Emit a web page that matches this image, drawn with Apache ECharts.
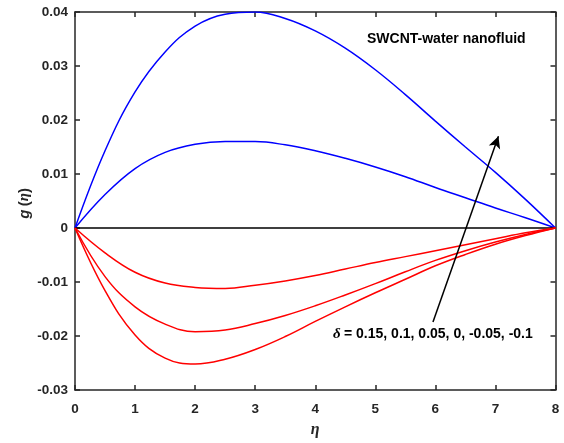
<!DOCTYPE html>
<html>
<head>
<meta charset="utf-8">
<script src="https://cdn.jsdelivr.net/npm/echarts@6/dist/echarts.min.js"></script>
<style>
  html, body { margin: 0; padding: 0; background: #fff; }
  #chart { width: 564px; height: 443px; }
</style>
</head>
<body>
<div id="chart"></div>
<script>
const eta = [0, 0.5, 1, 1.5, 2, 2.5, 3, 3.5, 4, 4.5, 5, 5.5, 6, 6.5, 7, 7.5, 8];

// g(eta) for each delta
const gBlue1 = [0, 0.0143, 0.0252, 0.0326, 0.0374, 0.0396, 0.0400, 0.0388, 0.0365, 0.0333, 0.0293, 0.0247, 0.0198, 0.0150, 0.0103, 0.0053, 0];
const gBlue2 = [0, 0.0062, 0.0110, 0.0140, 0.0155, 0.0160, 0.0160, 0.0154, 0.0143, 0.0129, 0.0113, 0.0095, 0.0075, 0.0056, 0.0037, 0.0019, 0];
const gBlack = [0, 0, 0, 0, 0, 0, 0, 0, 0, 0, 0, 0, 0, 0, 0, 0, 0];
const gRed1 = [0, -0.0046, -0.0082, -0.0102, -0.0110, -0.0112, -0.0106, -0.0098, -0.0088, -0.0076, -0.0064, -0.0053, -0.0042, -0.0031, -0.0020, -0.0009, 0];
const gRed2 = [0, -0.0090, -0.0146, -0.0178, -0.0192, -0.0189, -0.0177, -0.0162, -0.0144, -0.0124, -0.0103, -0.0081, -0.0060, -0.0042, -0.0026, -0.0012, 0];
const gRed3 = [0, -0.0116, -0.0198, -0.0241, -0.0252, -0.0243, -0.0225, -0.0201, -0.0173, -0.0146, -0.0120, -0.0095, -0.0070, -0.0049, -0.0030, -0.0014, 0];

// arrow annotation, data coords (tail -> head)
const arrowFrom = [5.96, -0.0174];
const arrowTo = [7.05, 0.0170];

const axisColor = '#262626';
const tickFont = { color: axisColor, fontSize: 13.5, fontWeight: 'bold', fontFamily: 'Liberation Sans, Arial' };

function pairs(ys) {
  return eta.map((x, i) => [x, ys[i]]);
}

function curve(name, ys, color) {
  return {
    name: name,
    type: 'line',
    data: pairs(ys),
    smooth: 0.4,
    symbol: 'none',
    lineStyle: { color: color, width: 1.5 },
    z: 3
  };
}

const chart = echarts.init(document.getElementById('chart'));

const series = [
  curve('δ = 0.15', gBlue1, '#0000ff'),
  curve('δ = 0.1', gBlue2, '#0000ff'),
  curve('δ = 0.05', gBlack, '#000000'),
  curve('δ = 0', gRed1, '#ff0000'),
  curve('δ = -0.05', gRed2, '#ff0000'),
  curve('δ = -0.1', gRed3, '#ff0000')
];

// arrow drawn as markLine on the zero series
series[2].markLine = {
  silent: true,
  symbol: ['none', 'arrow'],
  symbolSize: [9, 12],
  label: { show: false },
  lineStyle: { color: '#000', width: 1.5, type: 'solid' },
  data: [[{ coord: arrowFrom }, { coord: arrowTo }]]
};

const frame = {
  axisLine: { onZero: false, lineStyle: { color: axisColor, width: 1.5 } },
  axisTick: { inside: true, length: 5, lineStyle: { color: axisColor, width: 1.5 } },
  splitLine: { show: false }
};

chart.setOption({
  animation: false,
  backgroundColor: '#fff',
  grid: { left: 75, right: 8.5, top: 12, bottom: 52 },
  xAxis: [
    Object.assign({
      type: 'value',
      min: 0, max: 8, interval: 1,
      name: 'η',
      nameLocation: 'middle',
      nameGap: 32,
      nameTextStyle: { fontSize: 16, fontStyle: 'italic', fontWeight: 'bold', fontFamily: 'Liberation Serif, Times New Roman', color: axisColor },
      axisLabel: Object.assign({ margin: 12 }, tickFont)
    }, frame),
    Object.assign({
      type: 'value',
      position: 'top',
      min: 0, max: 8, interval: 1,
      axisLabel: { show: false }
    }, frame)
  ],
  yAxis: [
    Object.assign({
      type: 'value',
      min: -0.03, max: 0.04, interval: 0.01,
      axisLabel: Object.assign({ margin: 7, formatter: v => String(+v.toFixed(2)) }, tickFont)
    }, frame),
    Object.assign({
      type: 'value',
      position: 'right',
      min: -0.03, max: 0.04, interval: 0.01,
      axisLabel: { show: false }
    }, frame)
  ],
  graphic: [
    {
      type: 'text',
      left: 17, top: 188,
      rotation: Math.PI / 2,
      style: {
        text: '{g|g} {p|(}{e|η}{p|)}',
        rich: {
          g: { fontSize: 15, fontStyle: 'italic', fontWeight: 'bold', fontFamily: 'Liberation Sans, Arial', fill: axisColor },
          p: { fontSize: 15, fontWeight: 'bold', fontFamily: 'Liberation Sans, Arial', fill: axisColor },
          e: { fontSize: 15, fontStyle: 'italic', fontWeight: 'bold', fontFamily: 'Liberation Serif, Times New Roman', fill: axisColor }
        }
      }
    },
    {
      type: 'text',
      left: 367, top: 32,
      style: { text: 'SWCNT-water nanofluid', fontSize: 14, fontWeight: 'bold', fontFamily: 'Liberation Sans, Arial', fill: '#000' }
    },
    {
      type: 'text',
      left: 333, top: 327,
      style: {
        text: '{d|δ} {t|= 0.15, 0.1, 0.05, 0, -0.05, -0.1}',
        rich: {
          d: { fontSize: 15, fontStyle: 'italic', fontWeight: 'bold', fontFamily: 'Liberation Serif, Times New Roman', fill: '#000' },
          t: { fontSize: 14, fontWeight: 'bold', fontFamily: 'Liberation Sans, Arial', fill: '#000' }
        }
      }
    }
  ],
  series: series
});
</script>
</body>
</html>
